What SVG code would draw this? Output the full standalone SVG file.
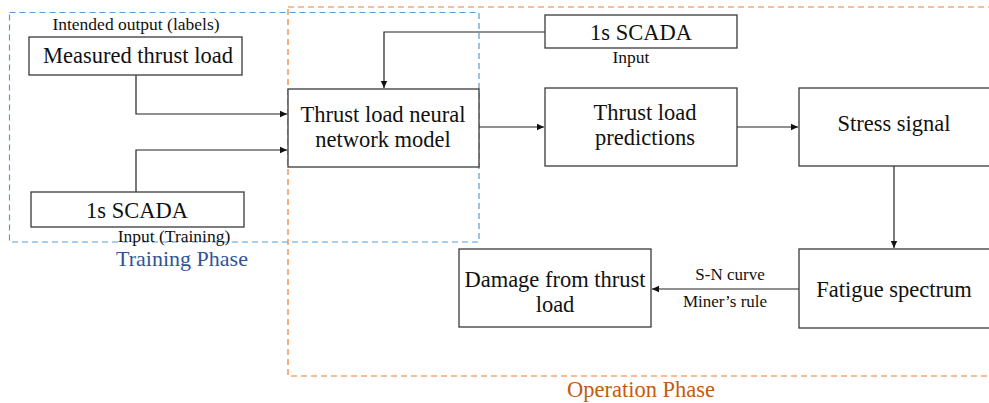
<svg xmlns="http://www.w3.org/2000/svg" width="989" height="403" viewBox="0 0 989 403">
<style>
.box{fill:#fff;stroke:#3a3a3a;stroke-width:1.3}
.t{font-family:"Liberation Serif","DejaVu Serif",serif;font-size:22.5px;fill:#111;text-anchor:middle}
.s{font-family:"Liberation Serif","DejaVu Serif",serif;font-size:17.5px;fill:#111;text-anchor:middle}
.c{fill:none;stroke:#222;stroke-width:1.2}
</style>
<defs>
<marker id="ah" markerWidth="8" markerHeight="8" refX="7" refY="4" orient="auto" markerUnits="userSpaceOnUse">
<path d="M0,0.8 L7,4 L0,7.2 Z" fill="#111"/>
</marker>
</defs>
<rect width="989" height="403" fill="#fff"/>
<g id="operation-phase">
<rect x="288" y="7" width="720" height="369" fill="none" stroke="#ED7D31" stroke-width="1.2" stroke-dasharray="6,4"/>
<text x="641" y="397" font-family="'Liberation Serif',serif" font-size="22.5" fill="#C55A11" text-anchor="middle">Operation Phase</text>
</g>
<g id="training-phase">
<rect x="9.5" y="12.5" width="469.5" height="229.5" fill="none" stroke="#5B9BD5" stroke-width="1.2" stroke-dasharray="6,4"/>
<text x="182" y="266" font-family="'Liberation Serif',serif" font-size="22" fill="#2F5597" text-anchor="middle">Training Phase</text>
</g>
<g id="connectors">
<path class="c" d="M136,75 V114 H287" marker-end="url(#ah)"/>
<path class="c" d="M136,192 V150 H287" marker-end="url(#ah)"/>
<path class="c" d="M545,32 H384 V88" marker-end="url(#ah)"/>
<path class="c" d="M479,127 H544" marker-end="url(#ah)"/>
<path class="c" d="M737,127 H798" marker-end="url(#ah)"/>
<path class="c" d="M894,166 V248" marker-end="url(#ah)"/>
<path class="c" d="M799,289 H652" marker-end="url(#ah)"/>
<text class="s" x="730" y="280" style="font-size:17px">S-N curve</text>
<text class="s" x="725" y="307" style="font-size:17px">Miner’s rule</text>
</g>
<g id="measured-thrust-load">
<text class="s" x="136" y="30">Intended output (labels)</text>
<rect class="box" x="29" y="37" width="213" height="38"/>
<text class="t" x="138" y="63">Measured thrust load</text>
</g>
<g id="scada-training">
<rect class="box" x="31" y="192" width="213" height="35"/>
<text class="t" x="137" y="218">1s SCADA</text>
<text class="s" x="174" y="242">Input (Training)</text>
</g>
<g id="nn-model">
<rect class="box" x="288" y="89" width="191" height="78"/>
<text class="t" x="383" y="122">Thrust load neural</text>
<text class="t" x="383" y="147">network model</text>
</g>
<g id="scada-input">
<rect class="box" x="545" y="15" width="192" height="33"/>
<text class="t" x="641" y="40">1s SCADA</text>
<text class="s" x="631" y="63">Input</text>
</g>
<g id="predictions">
<rect class="box" x="545" y="88" width="192" height="78"/>
<text class="t" x="645" y="120">Thrust load</text>
<text class="t" x="645" y="145">predictions</text>
</g>
<g id="stress-signal">
<rect class="box" x="799" y="88" width="200" height="78"/>
<text class="t" x="894" y="131">Stress signal</text>
</g>
<g id="fatigue-spectrum">
<rect class="box" x="799" y="249" width="200" height="79"/>
<text class="t" x="894" y="297">Fatigue spectrum</text>
</g>
<g id="damage">
<rect class="box" x="459" y="249" width="192" height="78"/>
<text class="t" x="555" y="287">Damage from thrust</text>
<text class="t" x="555" y="312">load</text>
</g>
</svg>
